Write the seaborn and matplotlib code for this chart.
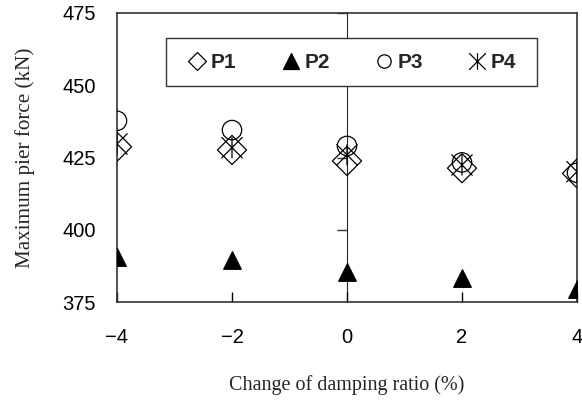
import numpy as np
import pandas as pd
import matplotlib
matplotlib.use("Agg")
import matplotlib.pyplot as plt
from matplotlib.path import Path
from matplotlib.patches import Rectangle
import seaborn as sns

damping = [-4, -2, 0, 2, 4]
p1 = [428.7, 427.6, 423.8, 421.3, 419.5]
p2 = [390.7, 389.5, 385.5, 383.4, 379.4]
p3 = [437.7, 434.5, 429.0, 423.3, 419.7]
p4 = [429.7, 428.4, 425.9, 422.4, 420.1]
series_names = ["P1", "P2", "P3", "P4"]
yticks = [375, 400, 425, 450, 475]
xticks = [-4, -2, 0, 2, 4]
xticklabels = ["\u22124", "\u22122", "0", "2", "4"]

sns.set_style("white")
plt.rcParams["font.family"] = ["Liberation Sans", "DejaVu Sans"]

fig = plt.figure(figsize=(5.82, 4.03), dpi=100)
ax = fig.add_axes([117/582, 101/403, 460/582, 289/403])

star = Path([(-1, -1), (1, 1), (-1, 1), (1, -1), (0, -1), (0, 1)],
            [Path.MOVETO, Path.LINETO, Path.MOVETO, Path.LINETO, Path.MOVETO, Path.LINETO])

specs = [
    (p1, "D", "none", 220, 9.4),
    (p2, "^", "black", 160, 11),
    (p3, "o", "none", 195, 9.6),
    (p4, star, "none", 230, 12),
]
handles = []
for name, (vals, mk, fc, s, lms) in zip(series_names, specs):
    df = pd.DataFrame({"x": damping, "y": vals})
    sns.scatterplot(data=df, x="x", y="y", ax=ax, marker=mk, s=s,
                    facecolors=fc, edgecolors="black", linewidths=0.9,
                    color="black", zorder=3)
    handles.append(plt.Line2D([], [], linestyle="none", marker=mk,
                              markersize=lms,
                              markerfacecolor=fc, markeredgecolor="black",
                              markeredgewidth=0.9, color="black"))

ax.set_xlim(-4, 4)
ax.set_ylim(375, 475)
ax.set_xticks(xticks)
ax.set_xticklabels(xticklabels)
ax.set_yticks(yticks)
ax.tick_params(axis="x", direction="in", length=7, width=1, pad=19,
               labelsize=14.5, colors="black", bottom=True)
ax.tick_params(axis="y", length=0, pad=15, labelsize=14.5, colors="black")
for sp in ax.spines.values():
    sp.set_color("#333333")
    sp.set_linewidth(1.2)

sec = ax.secondary_yaxis(0.5)
sec.set_yticks([400, 425, 450, 475])
sec.tick_params(direction="in", length=7, width=1, labelleft=False, colors="#333333")
sec.spines["left"].set_color("#333333")
sec.spines["left"].set_linewidth(1.2)
sec.set_yticklabels([])

ax.set_xlabel("Change of damping ratio (%)", family="Liberation Serif",
              fontsize=14.5, labelpad=20)
ax.set_ylabel("Maximum pier force (kN)", family="Liberation Serif",
              fontsize=15.2, labelpad=20)

box = Rectangle((0.1065, 0.747), 0.8065, 0.166, transform=ax.transAxes,
                facecolor="white", edgecolor="#333333", linewidth=1.0, zorder=4)
ax.add_patch(box)
leg = ax.legend(handles, series_names, loc="center",
                bbox_to_anchor=(0.51, 0.829), ncol=4, frameon=False,
                handlelength=1.0, handletextpad=0.15, columnspacing=2.1,
                borderaxespad=0, borderpad=0,
                prop={"family": "Liberation Sans", "weight": "bold", "size": 15})
leg.set_zorder(5)

fig.savefig("out.png", dpi=100)
